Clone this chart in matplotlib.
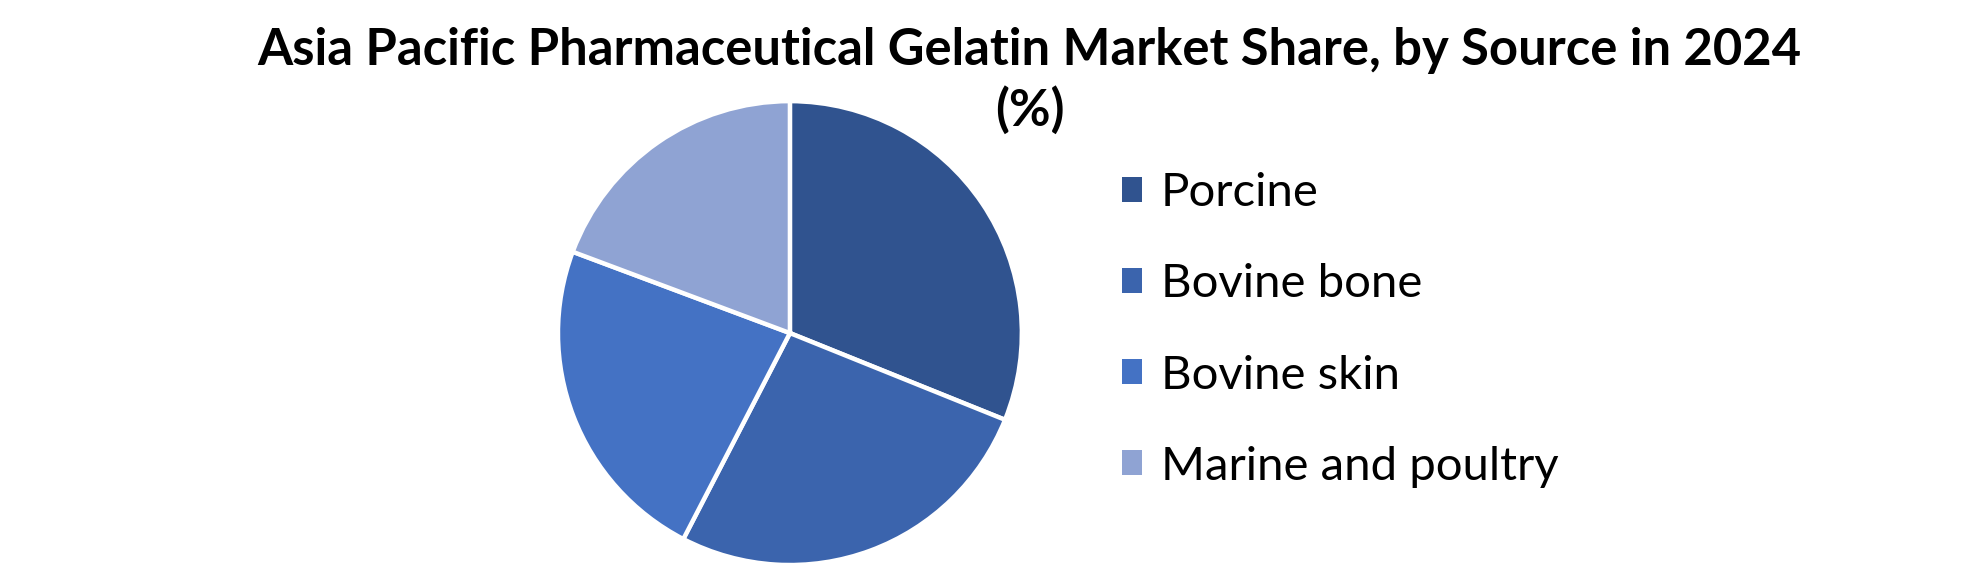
import matplotlib
matplotlib.use("Agg")
import matplotlib.pyplot as plt

# Share by source (%), read clockwise from 12 o'clock
sources = ["Porcine", "Bovine bone", "Bovine skin", "Marine and poultry"]
shares = [31.1, 26.5, 23.1, 19.3]
colors = ["#30538F", "#3B64AD", "#4472C4", "#8FA3D3"]

title = "Asia Pacific Pharmaceutical Gelatin Market Share, by Source in 2024\n(%)"

plt.rcParams["font.family"] = ["Lato", "DejaVu Sans"]

fig = plt.figure(figsize=(19.8, 5.72), dpi=100)

# pie axes: centre ~ (790, 333) px, radius ~ 232 px
ax = fig.add_axes([0.2818, 0.0122, 0.2343, 0.811])
wedges, _ = ax.pie(
    shares,
    colors=colors,
    startangle=90,
    counterclock=False,
    radius=1.0,
    wedgeprops=dict(edgecolor="white", linewidth=3.2),
)
ax.set_xlim(-1, 1)
ax.set_ylim(-1, 1)
ax.set_aspect("equal")
ax.axis("off")

fig.text(0.520, 0.858, title, ha="center", va="center",
         fontsize=36.5, fontweight="bold", linespacing=1.3)

leg = fig.legend(
    wedges, sources,
    loc="center left",
    bbox_to_anchor=(0.545, 0.423),
    frameon=False,
    fontsize=34,
    handlelength=0.43,
    handleheight=0.43,
    handletextpad=0.4,
    labelspacing=1.04,
)
for h in leg.legend_handles:
    h.set_edgecolor("none")

fig.savefig("out.png", dpi=100, facecolor="white")
